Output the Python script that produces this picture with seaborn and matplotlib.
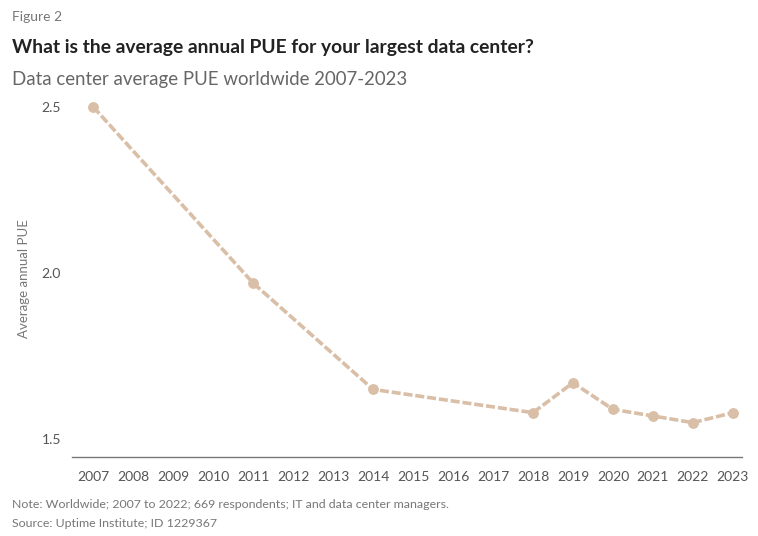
import pandas as pd
import matplotlib.pyplot as plt
import seaborn as sns

years = [2007, 2011, 2014, 2018, 2019, 2020, 2021, 2022, 2023]
pue = [2.50, 1.97, 1.65, 1.58, 1.67, 1.59, 1.57, 1.55, 1.58]
tick_years = list(range(2007, 2024))
y_ticks = [1.5, 2.0, 2.5]

sns.set_theme(style="white")
plt.rcParams['font.family'] = ['Lato', 'DejaVu Sans']

df = pd.DataFrame({'year': years, 'pue': pue})

fig = plt.figure(figsize=(7.58, 5.36), dpi=100)
ax = fig.add_axes([0.095, 0.147, 0.884, 0.666])

sns.lineplot(data=df, x='year', y='pue', ax=ax, color='#d9bfa7', linewidth=2.6,
             linestyle=(0, (2.5, 0.8)), marker='o', markersize=7,
             markeredgecolor='#d9bfa7')

ax.set_xlim(2006.47, 2023.23)
ax.set_ylim(1.446, 2.52)
ax.set_xticks(tick_years)
ax.set_xticklabels([str(y) for y in tick_years], fontsize=10, color='#555555')
ax.set_yticks(y_ticks)
ax.set_yticklabels([f'{v:.1f}' for v in y_ticks], fontsize=10, color='#555555')
ax.tick_params(axis='x', length=0, pad=10)
ax.tick_params(axis='y', length=0, pad=8)
ax.set_xlabel('')
ax.set_ylabel('Average annual PUE', fontsize=9.5, color='#777777', labelpad=8)
for s in ['top', 'right', 'left']:
    ax.spines[s].set_visible(False)
ax.spines['bottom'].set_color('#777777')
ax.spines['bottom'].set_linewidth(1)

fig.text(0.016, 0.968, 'Figure 2', fontsize=10, color='#777777', va='center')
fig.text(0.016, 0.912, 'What is the average annual PUE for your largest data center?',
         fontsize=13.9, fontweight='bold', color='#222222', va='center')
fig.text(0.016, 0.851, 'Data center average PUE worldwide 2007-2023',
         fontsize=13.4, color='#666666', va='center')
fig.text(0.016, 0.058, 'Note: Worldwide; 2007 to 2022; 669 respondents; IT and data center managers.',
         fontsize=8.9, color='#777777', va='center')
fig.text(0.016, 0.024, 'Source: Uptime Institute; ID 1229367',
         fontsize=8.9, color='#777777', va='center')

fig.savefig('out.png', dpi=100)
